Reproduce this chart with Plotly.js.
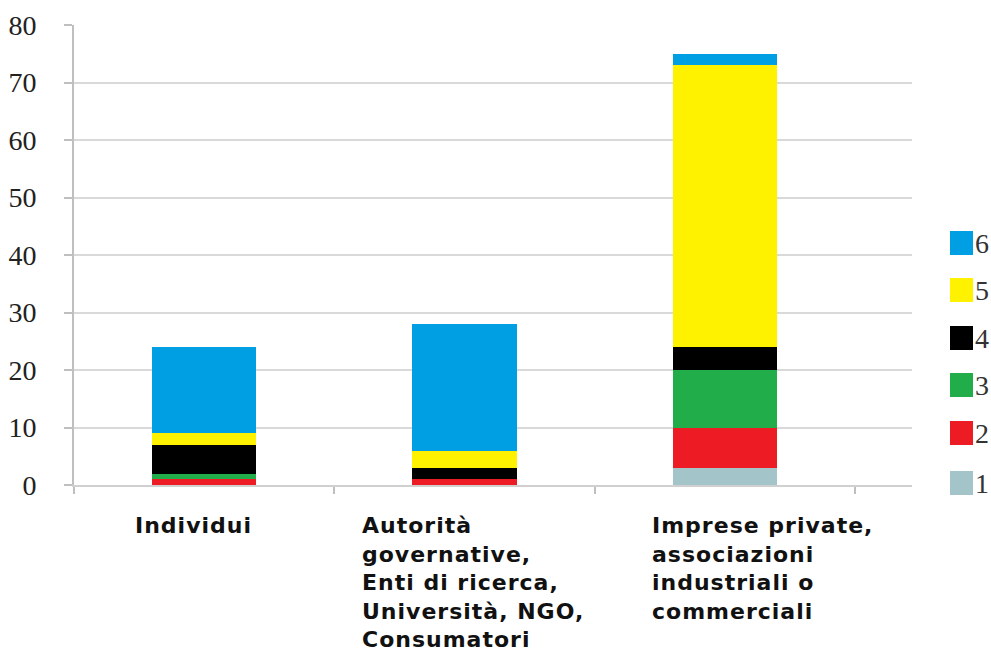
<!DOCTYPE html>
<html>
<head>
<meta charset="utf-8">
<script src="https://cdn.plot.ly/plotly-3.0.1.min.js"></script>
<style>html,body{margin:0;padding:0;background:#fff;}#chart{width:991px;height:658px;}</style>
</head>
<body>
<div id="chart"></div>
<script>
// ---- data ----
const categories = [
  "Individui",
  "Autorità<br>governative,<br>Enti di ricerca,<br>Università, NGO,<br>Consumatori",
  "Imprese private,<br>associazioni<br>industriali o<br>commerciali"
];
const seriesNames = ["1", "2", "3", "4", "5", "6"];
const s1 = [0, 0, 3];
const s2 = [1, 1, 7];
const s3 = [1, 0, 10];
const s4 = [5, 2, 4];
const s5 = [2, 3, 49];
const s6 = [15, 22, 2];
const seriesColors = ["#a3c4c9", "#ed1c24", "#22ad4b", "#000000", "#fff200", "#009fe3"];
const yTicks = [0, 10, 20, 30, 40, 50, 60, 70, 80];

// ---- layout geometry (pixels) ----
const W = 991, H = 658;
const L = 74, R = 912, T = 25, B = 485;
const pw = R - L, ph = B - T;
const px = x => (x - L) / pw;
const py = y => (B - y) / ph;

const allSeries = [s1, s2, s3, s4, s5, s6];
const xIdx = categories.map((c, i) => i);
const traces = allSeries.map((vals, k) => ({
  type: "bar",
  x: xIdx,
  y: vals,
  name: seriesNames[k],
  width: 0.4,
  marker: {color: seriesColors[k], line: {width: 0}},
  showlegend: false,
  hoverinfo: "y+name"
}));

const labelLeft = [133, 360, 650];
const annotations = categories.map((c, i) => ({
  xref: "paper", yref: "paper",
  x: px(labelLeft[i]), y: py(511),
  xanchor: "left", yanchor: "top",
  align: "left", showarrow: false,
  text: c.split("<br>").map(t => "<span style=\"letter-spacing:1px\"><b>" + t + "</b></span>").join("<br>"),
  font: {family: "DejaVu Sans", size: 22, color: "#111"}
}));

const legendY = [243, 290, 338, 385, 433, 483];
const shapes = [];
seriesNames.slice().reverse().forEach((n, j) => {
  const k = seriesNames.length - 1 - j;
  const cy = legendY[j];
  shapes.push({
    type: "rect", xref: "paper", yref: "paper",
    x0: px(950), x1: px(973), y0: py(cy + 12), y1: py(cy - 12),
    fillcolor: seriesColors[k], line: {width: 0}
  });
  annotations.push({
    xref: "paper", yref: "paper", x: px(973), y: py(cy),
    xanchor: "left", yanchor: "middle", showarrow: false,
    text: n, font: {family: "Liberation Serif", size: 28, color: "#333"}
  });
});

const layout = {
  width: W, height: H,
  margin: {l: L, r: W - R, t: T, b: H - B, pad: 0},
  paper_bgcolor: "#fff", plot_bgcolor: "#fff",
  barmode: "stack",
  showlegend: false,
  xaxis: {
    type: "category",
    range: [-0.5, 2.5 + 57 / 260],
    tickvals: xIdx,
    showticklabels: false,
    tickson: "boundaries",
    ticks: "outside", ticklen: 7, tickcolor: "#bfbfbf", tickwidth: 2,
    showgrid: false,
    showline: true, linecolor: "#d0d0d0", linewidth: 2,
    zeroline: false, fixedrange: true
  },
  yaxis: {
    range: [0, 80],
    tickvals: yTicks,
    ticktext: yTicks.map(String),
    ticks: "outside", ticklen: 8, tickcolor: "#bfbfbf", tickwidth: 2,
    ticklabelstandoff: 22,
    showgrid: true, gridcolor: "#d9d9d9", gridwidth: 2,
    showline: true, linecolor: "#bfbfbf", linewidth: 2,
    zeroline: false,
    tickfont: {family: "Liberation Serif", size: 28, color: "#222"},
    fixedrange: true
  },
  annotations: annotations,
  shapes: shapes
};

Plotly.newPlot("chart", traces, layout, {displayModeBar: false, staticPlot: true});
</script>
</body>
</html>
